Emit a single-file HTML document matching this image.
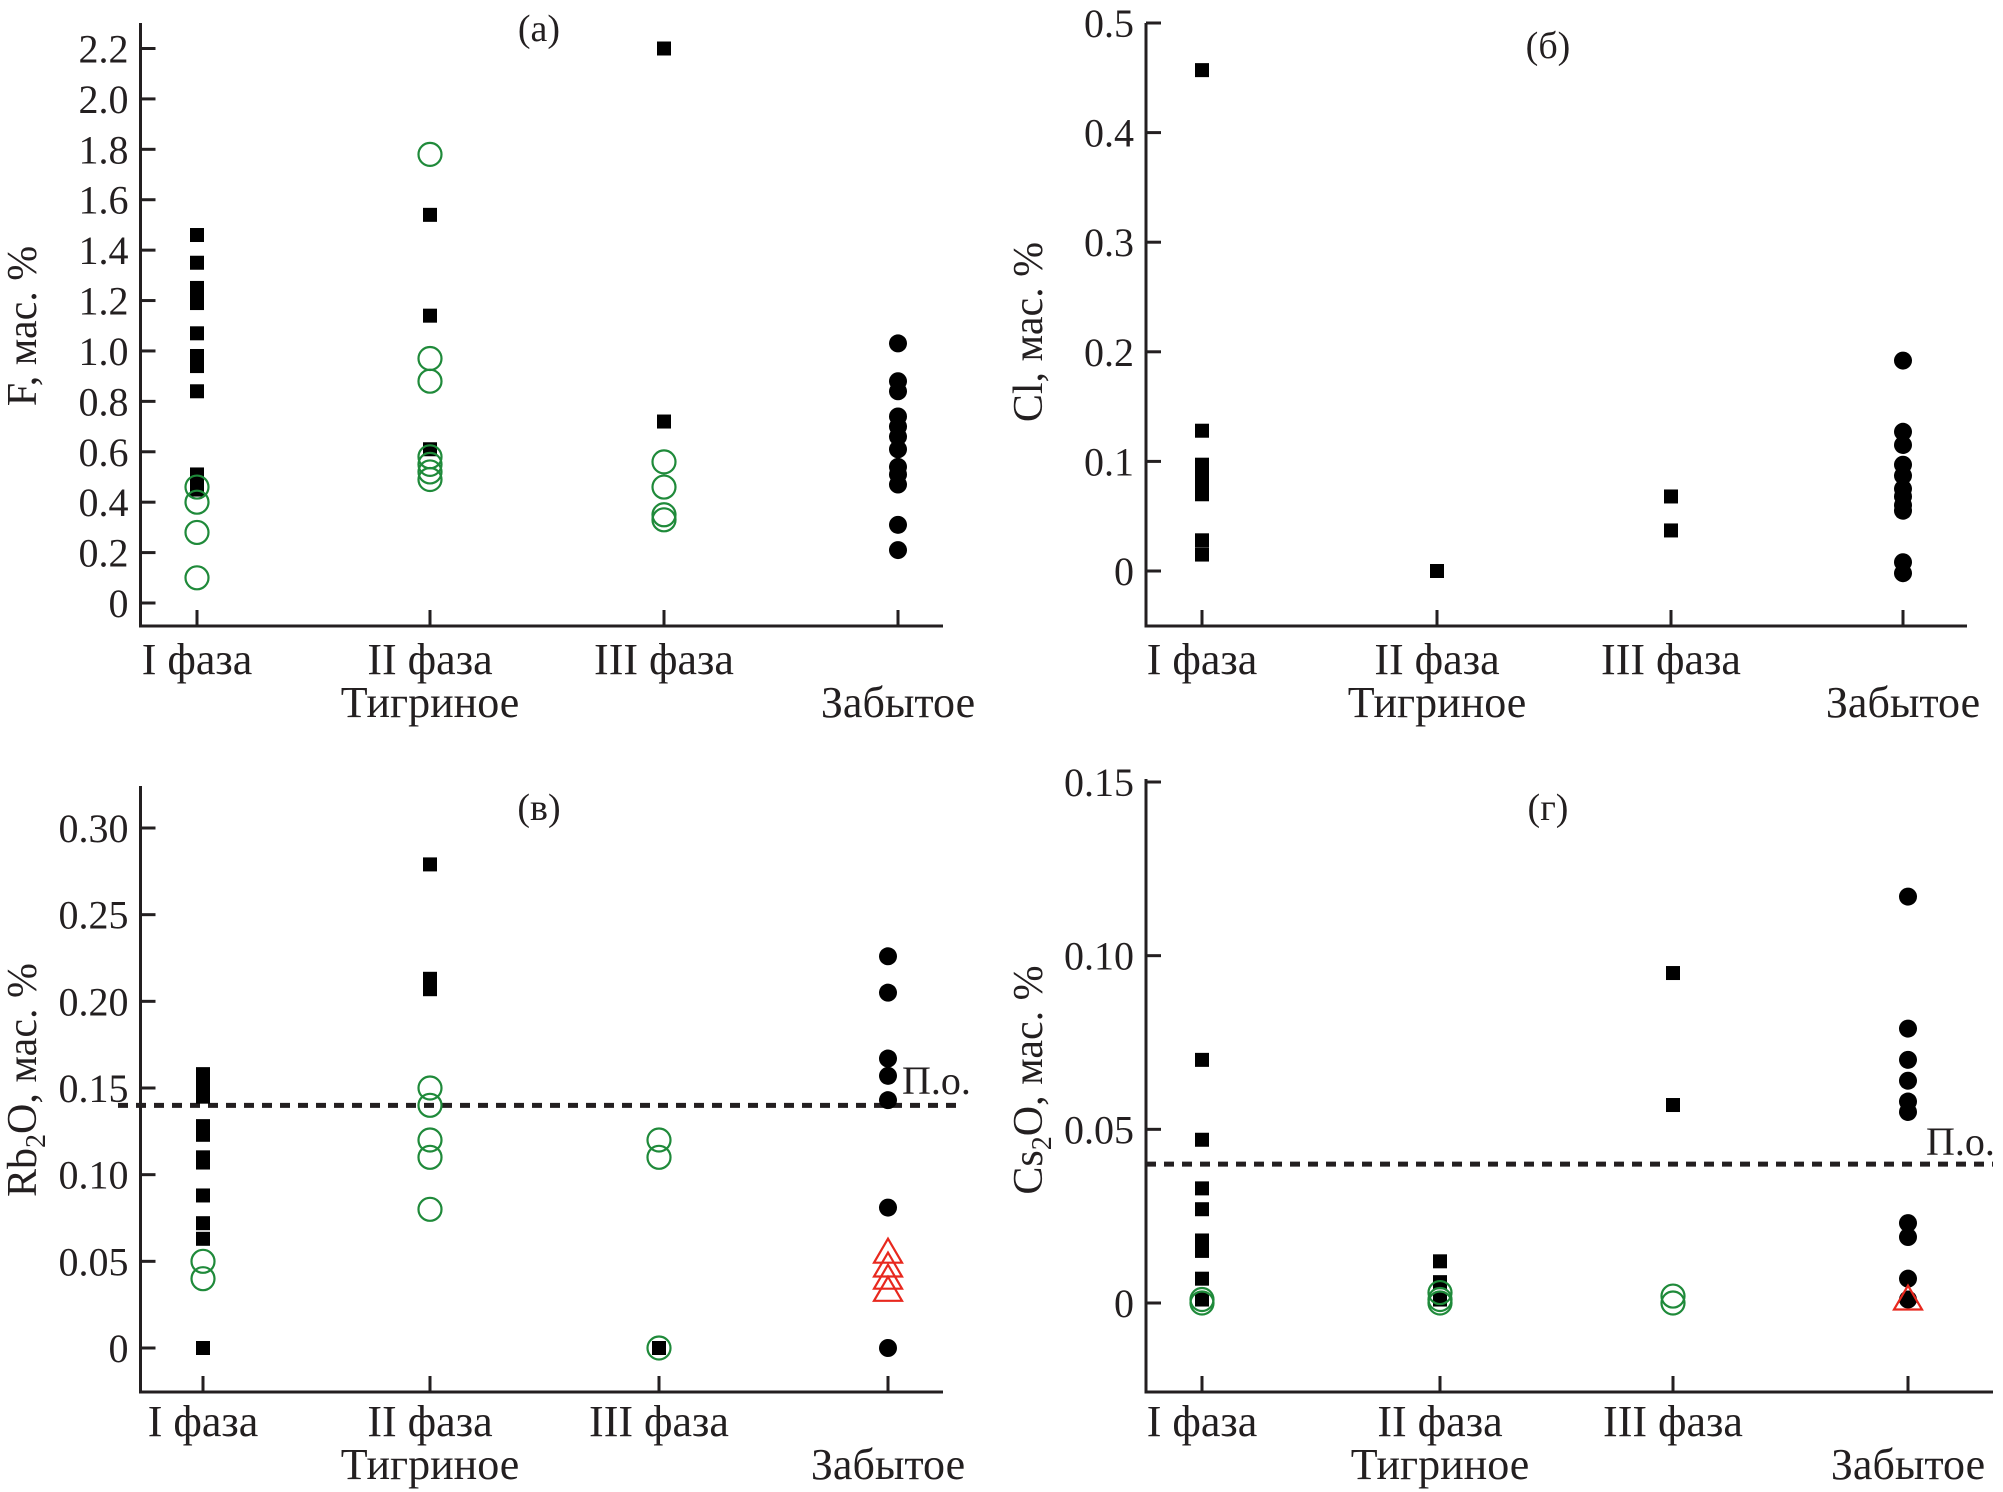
<!DOCTYPE html>
<html><head><meta charset="utf-8"><style>
html,body{margin:0;padding:0;background:#fff}
svg{display:block}
text{font-family:"Liberation Serif","DejaVu Serif",serif;fill:#231f20}
</style></head><body>
<svg id="chart" width="2003" height="1492" viewBox="0 0 2003 1492" xmlns="http://www.w3.org/2000/svg"></svg>
<script>
const categories = ["I фаза","II фаза","III фаза","Забытое"];
// panel a (F)
const aSq = [[1.46,1.35,1.25,1.22,1.19,1.07,0.98,0.94,0.84,0.51,0.48,0.45],[1.54,1.14,0.61],[2.20,0.72],[]];
const aCi = [[0.46,0.40,0.28,0.10],[1.78,0.97,0.88,0.58,0.55,0.52,0.49],[0.56,0.46,0.35,0.33],[]];
const aDot = [1.03,0.88,0.84,0.74,0.70,0.66,0.61,0.54,0.51,0.47,0.31,0.21];
const aTri = [];
const aTicks = ["0","0.2","0.4","0.6","0.8","1.0","1.2","1.4","1.6","1.8","2.0","2.2"];
// panel b (Cl)
const bSq = [[0.457,0.128,0.097,0.087,0.080,0.070,0.028,0.015],[0.0],[0.068,0.037],[]];
const bCi = [[],[],[],[]];
const bDot = [0.192,0.127,0.115,0.097,0.087,0.075,0.068,0.060,0.055,0.008,-0.002];
const bTri = [];
const bTicks = ["0","0.1","0.2","0.3","0.4","0.5"];
// panel c (Rb2O)
const cSq = [[0.158,0.150,0.145,0.128,0.123,0.110,0.107,0.088,0.072,0.063,0],[0.279,0.213,0.207],[0],[]];
const cCi = [[0.05,0.04],[0.15,0.14,0.12,0.11,0.08],[0.12,0.11,0],[]];
const cDot = [0.226,0.205,0.167,0.157,0.143,0.081,0];
const cTri = [0.055,0.047,0.040,0.033];
const cTicks = ["0","0.05","0.10","0.15","0.20","0.25","0.30"];
const cLimit = 0.14;
// panel d (Cs2O)
const dSq = [[0.070,0.047,0.033,0.027,0.018,0.015,0.007,0.001],[0.012,0.006,0.001],[0.095,0.057],[]];
const dCi = [[0.001,0],[0.003,0.001,0],[0.002,0],[]];
const dDot = [0.117,0.079,0.070,0.064,0.058,0.055,0.023,0.019,0.007,0.001];
const dTri = [0.001];
const dTicks = ["0","0.05","0.10","0.15"];
const dLimit = 0.04;

const NS="http://www.w3.org/2000/svg";
const svg=document.getElementById('chart');
function mk(tag,attrs,parent,txt){const e=document.createElementNS(NS,tag);for(const k in attrs)e.setAttribute(k,attrs[k]);if(txt!==undefined)e.textContent=txt;(parent||svg).appendChild(e);return e;}

function panel(o){
  const g=mk('g',{});
  
  
  const y=v=>o.y0+(v-o.v0)*(o.y1-o.y0)/(o.v1-o.v0);
  const x=i=>o.cx[i];
  const ax=mk('path',{d:`M${o.ax},${o.top}V${o.bot}H${o.right}`,stroke:'#231f20','stroke-width':3,fill:'none'},g);
  
  
  o.ticks.forEach(t=>{const v=parseFloat(t);const yy=y(v);
    const tk=mk('line',{x1:o.ax,x2:o.ax+15,y1:yy,y2:yy,stroke:'#231f20','stroke-width':3},g);
    
    
    const tl=mk('text',{x:o.ax-12,y:yy+14,'text-anchor':'end','font-size':40},g,t);
    
    
  });
  categories.forEach((c,i)=>{
    const tk=mk('line',{x1:x(i),x2:x(i),y1:o.bot,y2:o.bot-16,stroke:'#231f20','stroke-width':3},g);
    
    
    const ly=i===3?o.lab2:o.lab1;
    const tl=mk('text',{x:x(i),y:ly+14,'text-anchor':'middle','font-size':44},g,c);
    
    
  });
  const tg=mk('text',{x:x(1),y:o.lab2+14,'text-anchor':'middle','font-size':44},g,'Тигриное');
  
  
  const ti=mk('text',{x:o.titleX,y:o.titleY+13,'text-anchor':'middle','font-size':38},g,o.title);
  
  
  const yt=mk('text',{transform:`translate(${o.ytX},${o.ytY}) rotate(-90)`,'text-anchor':'middle','font-size':42},g);
  
  
  o.ytitle.forEach(p=>{mk('tspan',p.sub?{'font-size':28,dy:9}:(p.after?{dy:-9}:{}),yt,p.t);});
  if(o.limit!==undefined){
    const ln=mk('line',{x1:o.limX1,x2:o.limX2,y1:y(o.limit),y2:y(o.limit),stroke:'#231f20','stroke-width':5,'stroke-dasharray':'10 8'},g);
    
    
    const lt=mk('text',{x:o.poX,y:o.poY,'font-size':40},g,'П.о.');
    
    
  }
  o.sq.forEach((arr,i)=>arr.forEach(v=>{
    const r=mk('rect',{x:x(i)-7,y:y(v)-7,width:14,height:14,fill:'#000'},g);
    
    
  }));
  o.ci.forEach((arr,i)=>arr.forEach(v=>{
    const c=mk('circle',{cx:x(i),cy:y(v),r:11.5,fill:'none',stroke:'#1f8a3a','stroke-width':2.2},g);
    
    
  }));
  o.dot.forEach(v=>{
    const c=mk('circle',{cx:x(3),cy:y(v),r:9,fill:'#000'},g);
    
    
  });
  o.tri.forEach(v=>{
    const X=x(3),Y=y(v);
    const p=mk('path',{d:`M${X},${Y-14}L${X+14},${Y+10}L${X-14},${Y+10}Z`,fill:'none',stroke:'#e8281e','stroke-width':2.2},g);
    
    
  });
}

panel({name:'panel-a',ax:140.5,top:23,bot:626,right:943,v0:0,y0:603,v1:2.2,y1:48.5,cx:[197,430,664,898],
  ticks:aTicks,sq:aSq,ci:aCi,dot:aDot,tri:aTri,lab1:660,lab2:703,title:'(a)',titleX:539,titleY:28,
  ytX:36,ytY:326,ytitle:[{t:'F, мас. %'}]});
panel({name:'panel-b',ax:1146,top:23,bot:626,right:1967,v0:0,y0:571,v1:0.5,y1:23,cx:[1202,1437,1671,1903],
  ticks:bTicks,sq:bSq,ci:bCi,dot:bDot,tri:bTri,lab1:660,lab2:703,title:'(б)',titleX:1548,titleY:45,
  ytX:1042,ytY:332,ytitle:[{t:'Cl, мас. %'}]});
panel({name:'panel-c',ax:140.5,top:786,bot:1392,right:943,v0:0,y0:1348,v1:0.30,y1:828,cx:[203,430,659,888],
  ticks:cTicks,sq:cSq,ci:cCi,dot:cDot,tri:cTri,lab1:1422,lab2:1465,title:'(в)',titleX:539,titleY:807,
  ytX:36,ytY:1080,ytitle:[{t:'Rb'},{t:'2',sub:true},{t:'O, мас. %',after:true}],
  limit:cLimit,limX1:118,limX2:962,poX:902,poY:1094});
panel({name:'panel-d',ax:1146,top:779,bot:1392,right:1993,v0:0,y0:1303,v1:0.15,y1:782,cx:[1202,1440,1673,1908],
  ticks:dTicks,sq:dSq,ci:dCi,dot:dDot,tri:dTri,lab1:1422,lab2:1465,title:'(г)',titleX:1548,titleY:807,
  ytX:1042,ytY:1080,ytitle:[{t:'Cs'},{t:'2',sub:true},{t:'O, мас. %',after:true}],
  limit:dLimit,limX1:1146,limX2:1993,poX:1926,poY:1155});
</script>
</body></html>
